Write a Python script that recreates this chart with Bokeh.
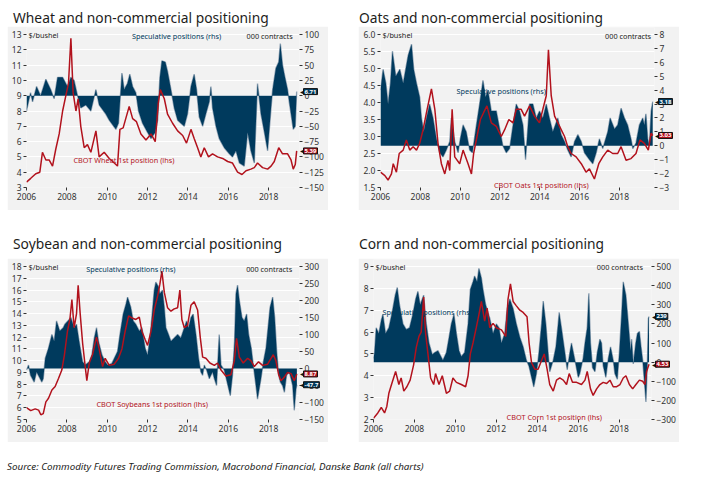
from bokeh.plotting import figure
from bokeh.models import Range1d, LinearAxis, FixedTicker, Div, Spacer, NumeralTickFormatter
from bokeh.layouts import column, row
from bokeh.embed import file_html
from bokeh.resources import INLINE
from bokeh.core.properties import value

NAVY = "#003A5D"
FRINGE = "#93A5B6"
RED = "#B2121D"
BG = "#F2F2F2"
FONT = "Noto Sans"

YEAR_TICKS = [2006, 2008, 2010, 2012, 2014, 2016, 2018]

# ---------------- Wheat ----------------
WHEAT_POSITIONS = [(2006.0, -25), (2006.2, 5), (2006.3, -10), (2006.5, 15), (2006.7, 0), (2006.96, 27),
    (2007.2, 10), (2007.37, -5), (2007.54, 30), (2007.79, 30), (2008.03, 15), (2008.2, 30), (2008.36, 25),
    (2008.53, 0), (2008.69, -20), (2008.94, -15), (2009.19, -25), (2009.44, 10), (2009.6, -15), (2009.93, -30),
    (2010.1, -40), (2010.43, -55), (2010.56, -45), (2010.73, 37), (2010.84, 10), (2011.0, 20), (2011.12, 35),
    (2011.26, 15), (2011.42, 5), (2011.55, -25), (2011.75, -45), (2012.0, -60), (2012.17, -70), (2012.38, -60),
    (2012.5, -40), (2012.61, 30), (2012.71, 57), (2012.88, 55), (2012.99, 40), (2013.16, 10), (2013.32, -20),
    (2013.49, -40), (2013.65, -45), (2013.82, -50), (2013.98, -30), (2014.15, 15), (2014.31, 35), (2014.43, 10),
    (2014.56, -35), (2014.73, -50), (2014.89, -30), (2015.06, -10), (2015.14, 15), (2015.22, -20), (2015.39, -50),
    (2015.55, -70), (2015.8, -85), (2016.05, -95), (2016.21, -100), (2016.38, -90), (2016.55, -110),
    (2016.79, -115), (2016.96, -60), (2017.12, -90), (2017.29, -110), (2017.45, 20), (2017.62, -30),
    (2017.79, -60), (2017.95, -90), (2018.12, -20), (2018.2, 10), (2018.36, 45), (2018.5, 55), (2018.58, 85),
    (2018.69, 50), (2018.81, 30), (2018.94, 10), (2019.02, -10), (2019.11, -30), (2019.22, -55), (2019.32, -50),
    (2019.39, 6.71)]
WHEAT_PRICE = [(2006.0, 3.35), (2006.21, 3.6), (2006.46, 3.9), (2006.66, 4.0), (2006.79, 5.3), (2006.96, 4.8),
    (2007.12, 4.8), (2007.29, 4.4), (2007.45, 5.5), (2007.62, 6.5), (2007.79, 8.0), (2007.95, 9.0), (2008.08, 9.8),
    (2008.2, 12.75), (2008.31, 9.2), (2008.45, 8.0), (2008.56, 8.8), (2008.69, 7.0), (2008.86, 5.6), (2009.02, 5.8),
    (2009.19, 5.3), (2009.44, 6.7), (2009.6, 5.0), (2009.85, 5.3), (2010.1, 4.9), (2010.35, 4.6), (2010.51, 4.4),
    (2010.63, 6.8), (2010.79, 6.9), (2011.09, 8.3), (2011.26, 7.5), (2011.45, 7.3), (2011.67, 6.5), (2011.92, 6.1),
    (2012.17, 6.5), (2012.38, 6.0), (2012.53, 8.5), (2012.63, 9.4), (2012.83, 8.8), (2012.99, 7.8), (2013.24, 7.2),
    (2013.49, 6.7), (2013.74, 6.4), (2013.93, 5.9), (2014.15, 6.8), (2014.31, 6.2), (2014.48, 5.6), (2014.64, 5.0),
    (2014.81, 5.6), (2015.02, 5.0), (2015.22, 5.2), (2015.47, 5.0), (2015.72, 4.9), (2015.97, 4.7), (2016.21, 4.6),
    (2016.46, 4.0), (2016.68, 3.85), (2016.88, 4.1), (2017.12, 4.2), (2017.29, 4.3), (2017.45, 4.6), (2017.7, 4.3),
    (2017.95, 4.2), (2018.12, 4.4), (2018.28, 4.7), (2018.5, 5.6), (2018.69, 5.2), (2018.94, 5.2), (2019.11, 4.8),
    (2019.22, 4.2), (2019.32, 4.5), (2019.39, 5.39)]
WHEAT_LEFT_TICKS = [3, 4, 5, 6, 7, 8, 9, 10, 11, 12, 13]
WHEAT_RIGHT_TICKS = [-150, -125, -100, -75, -50, -25, 0, 25, 50, 75, 100]

# ---------------- Oats ----------------
OATS_POSITIONS = [(2006.0, 4.0), (2006.13, 5.5), (2006.27, 4.5), (2006.38, 3.0), (2006.5, 4.5), (2006.6, 6.8),
    (2006.77, 5.0), (2006.97, 5.5), (2007.14, 4.5), (2007.39, 6.5), (2007.56, 7.3), (2007.67, 5.5), (2007.81, 4.5),
    (2007.97, 3.5), (2008.06, 2.0), (2008.17, 1.0), (2008.31, 2.0), (2008.47, 3.0), (2008.64, 2.0), (2008.81, 0.5),
    (2008.98, -0.5), (2009.14, -0.8), (2009.31, -0.3), (2009.48, 0.3), (2009.56, 2.0), (2009.73, 0.3),
    (2009.9, -0.5), (2010.01, 0.5), (2010.15, 1.5), (2010.31, 1.0), (2010.48, -0.3), (2010.62, -0.5),
    (2010.82, 1.5), (2010.98, 3.0), (2011.15, 4.7), (2011.28, 3.5), (2011.4, 4.0), (2011.57, 2.5), (2011.82, 2.5),
    (2012.02, 1.0), (2012.15, 0.0), (2012.32, -0.5), (2012.49, -0.2), (2012.66, 1.5), (2012.82, 3.0),
    (2012.99, 2.5), (2013.16, 1.5), (2013.29, -1.0), (2013.49, 3.0), (2013.66, 3.0), (2013.83, 2.0),
    (2013.99, 2.5), (2014.16, 2.0), (2014.33, 3.0), (2014.49, 2.0), (2014.66, 1.0), (2014.91, 2.0),
    (2015.08, 0.8), (2015.25, 0.3), (2015.41, -0.3), (2015.58, -0.8), (2015.75, 0.3), (2015.92, 0.8),
    (2016.09, 0.3), (2016.25, -0.5), (2016.5, -1.0), (2016.67, -1.3), (2016.84, -0.5), (2017.0, 0.5),
    (2017.17, -0.2), (2017.42, 1.0), (2017.54, 2.0), (2017.76, 1.2), (2017.92, 1.5), (2018.09, 2.7),
    (2018.26, 2.0), (2018.42, 1.5), (2018.59, 0.5), (2018.68, -0.2), (2018.84, 0.2), (2019.01, 1.5),
    (2019.18, 2.0), (2019.26, 1.5), (2019.34, 2.3), (2019.43, 0.5), (2019.51, 0.0), (2019.6, 2.5), (2019.68, 3.18)]
OATS_PRICE = [(2006.0, 1.95), (2006.22, 1.85), (2006.38, 1.72), (2006.55, 1.9), (2006.64, 2.2), (2006.8, 1.95),
    (2006.94, 2.5), (2007.14, 2.6), (2007.3, 2.9), (2007.47, 2.6), (2007.64, 2.7), (2007.81, 2.6), (2007.97, 2.8),
    (2008.14, 3.2), (2008.31, 3.7), (2008.56, 4.4), (2008.73, 3.8), (2008.89, 2.8), (2009.06, 2.2), (2009.23, 1.9),
    (2009.39, 2.3), (2009.48, 2.0), (2009.6, 3.8), (2009.73, 2.4), (2009.98, 2.2), (2010.15, 2.6), (2010.4, 2.2),
    (2010.57, 1.9), (2010.68, 2.5), (2010.85, 3.0), (2011.02, 3.5), (2011.18, 3.7), (2011.35, 3.9), (2011.57, 3.4),
    (2011.82, 3.3), (2012.07, 3.0), (2012.24, 3.2), (2012.45, 3.5), (2012.66, 3.4), (2012.82, 3.8), (2013.07, 3.8),
    (2013.24, 3.6), (2013.49, 3.9), (2013.74, 3.6), (2013.99, 3.4), (2014.16, 3.8), (2014.33, 4.2), (2014.44, 5.55),
    (2014.58, 4.2), (2014.75, 3.6), (2015.0, 3.3), (2015.25, 3.0), (2015.41, 2.7), (2015.58, 2.5), (2015.83, 2.4),
    (2016.09, 2.2), (2016.33, 1.95), (2016.5, 2.05), (2016.75, 1.75), (2016.97, 2.2), (2017.17, 2.4),
    (2017.42, 2.6), (2017.67, 2.5), (2017.92, 2.5), (2018.09, 2.7), (2018.34, 2.3), (2018.59, 2.35),
    (2018.84, 2.5), (2019.04, 2.9), (2019.26, 2.8), (2019.46, 2.6), (2019.6, 3.1), (2019.68, 3.03)]
OATS_LEFT_TICKS = [1.5, 2.0, 2.5, 3.0, 3.5, 4.0, 4.5, 5.0, 5.5, 6.0]
OATS_RIGHT_TICKS = [-3, -2, -1, 0, 1, 2, 3, 4, 5, 6, 7, 8]

# ---------------- Soybeans ----------------
SOY_POSITIONS = [(2006.0, -5), (2006.1, 10), (2006.2, -20), (2006.38, -40), (2006.5, -10), (2006.63, -25),
    (2006.76, -40), (2006.83, -30), (2006.93, 30), (2007.09, 60), (2007.26, 100), (2007.37, 80), (2007.49, 140),
    (2007.65, 110), (2007.82, 120), (2007.9, 130), (2008.05, 140), (2008.2, 150), (2008.36, 120), (2008.48, 130),
    (2008.61, 80), (2008.78, 20), (2008.91, 10), (2009.11, 20), (2009.24, 40), (2009.36, 90), (2009.47, 120),
    (2009.57, 80), (2009.74, 40), (2009.9, 20), (2010.02, 10), (2010.23, 15), (2010.35, 30), (2010.51, 50),
    (2010.63, 100), (2010.79, 160), (2010.93, 190), (2011.01, 210), (2011.17, 180), (2011.29, 140),
    (2011.42, 130), (2011.59, 110), (2011.72, 120), (2011.88, 60), (2012.0, 40), (2012.12, 90), (2012.21, 150),
    (2012.33, 230), (2012.41, 254), (2012.55, 240), (2012.61, 220), (2012.74, 230), (2012.83, 180),
    (2012.91, 120), (2013.04, 100), (2013.16, 80), (2013.32, 90), (2013.49, 100), (2013.65, 90), (2013.82, 120),
    (2013.93, 140), (2014.03, 120), (2014.15, 150), (2014.26, 160), (2014.4, 100), (2014.53, 30), (2014.64, -10),
    (2014.73, -20), (2014.81, 10), (2014.93, -5), (2015.06, -30), (2015.22, -10), (2015.31, -30), (2015.42, -50),
    (2015.55, 100), (2015.64, 10), (2015.8, -5), (2016.02, -60), (2016.1, -80), (2016.21, -20), (2016.31, 80),
    (2016.38, 220), (2016.46, 245), (2016.55, 200), (2016.68, 150), (2016.79, 140), (2016.91, 160),
    (2017.01, 100), (2017.14, 60), (2017.24, 10), (2017.37, -50), (2017.45, -90), (2017.62, -30), (2017.74, 20),
    (2017.87, 60), (2017.97, 120), (2018.07, 180), (2018.2, 210), (2018.3, 150), (2018.4, 50), (2018.5, -20),
    (2018.58, -40), (2018.69, -50), (2018.78, -70), (2018.89, -20), (2019.02, -10), (2019.11, -30),
    (2019.19, -50), (2019.27, -123), (2019.36, -60), (2019.4, -47.7)]
SOY_PRICE = [(2006.0, 6.0), (2006.21, 5.75), (2006.43, 5.9), (2006.6, 5.8), (2006.71, 5.4), (2006.83, 5.5),
    (2006.96, 6.5), (2007.09, 6.8), (2007.26, 7.5), (2007.42, 7.8), (2007.59, 8.5), (2007.75, 9.2), (2007.88, 10.5),
    (2008.03, 12.5), (2008.15, 13.5), (2008.25, 15.2), (2008.36, 12.8), (2008.48, 14.0), (2008.56, 16.4),
    (2008.66, 14.0), (2008.78, 11.5), (2008.91, 9.5), (2008.99, 8.3), (2009.11, 9.8), (2009.27, 10.5),
    (2009.47, 12.0), (2009.6, 11.0), (2009.77, 9.5), (2009.9, 10.2), (2010.1, 9.6), (2010.35, 9.7), (2010.56, 10.2),
    (2010.73, 11.0), (2010.89, 12.5), (2011.06, 13.8), (2011.26, 13.6), (2011.42, 13.5), (2011.59, 13.7),
    (2011.72, 12.5), (2011.88, 11.8), (2012.0, 11.3), (2012.17, 12.5), (2012.33, 14.3), (2012.5, 15.5),
    (2012.61, 16.5), (2012.71, 17.6), (2012.83, 15.8), (2012.99, 14.5), (2013.16, 14.2), (2013.32, 14.4),
    (2013.49, 14.5), (2013.6, 16.0), (2013.7, 13.5), (2013.82, 12.8), (2013.98, 13.0), (2014.15, 14.7),
    (2014.31, 15.0), (2014.48, 14.3), (2014.61, 12.0), (2014.73, 10.3), (2014.89, 10.2), (2015.09, 9.8),
    (2015.31, 9.6), (2015.47, 9.8), (2015.64, 9.2), (2015.88, 8.7), (2016.13, 8.8), (2016.3, 10.0), (2016.41, 11.9),
    (2016.55, 10.3), (2016.74, 9.8), (2016.96, 10.2), (2017.12, 10.0), (2017.29, 9.5), (2017.5, 9.9), (2017.7, 9.6),
    (2017.95, 9.7), (2018.12, 10.2), (2018.23, 10.5), (2018.36, 10.0), (2018.5, 8.8), (2018.61, 8.3),
    (2018.78, 8.6), (2018.94, 9.0), (2019.11, 8.9), (2019.27, 8.3), (2019.4, 8.87)]
SOY_LEFT_TICKS = [5, 6, 7, 8, 9, 10, 11, 12, 13, 14, 15, 16, 17, 18]
SOY_RIGHT_TICKS = [-150, -100, -50, 0, 50, 100, 150, 200, 250, 300]

# ---------------- Corn ----------------
CORN_POSITIONS = [(2006.0, 20), (2006.05, 50), (2006.13, 180), (2006.26, 150), (2006.38, 220), (2006.46, 250),
    (2006.59, 150), (2006.75, 180), (2006.91, 260), (2007.06, 350), (2007.16, 390), (2007.27, 300), (2007.44, 200),
    (2007.6, 170), (2007.76, 180), (2007.92, 250), (2008.06, 330), (2008.17, 370), (2008.28, 300), (2008.45, 350),
    (2008.58, 200), (2008.71, 100), (2008.87, 40), (2008.99, 50), (2009.15, 60), (2009.39, 10), (2009.56, 50),
    (2009.69, 130), (2009.8, 200), (2009.93, 250), (2010.05, 150), (2010.18, 60), (2010.29, 30), (2010.45, 50),
    (2010.62, 200), (2010.73, 380), (2010.86, 420), (2010.94, 450), (2011.06, 420), (2011.15, 490), (2011.27, 440),
    (2011.35, 380), (2011.48, 300), (2011.68, 230), (2011.84, 150), (2012.0, 200), (2012.13, 180), (2012.25, 100),
    (2012.41, 150), (2012.53, 280), (2012.66, 330), (2012.82, 280), (2012.98, 200), (2013.15, 130), (2013.31, 80),
    (2013.47, 10), (2013.59, -20), (2013.72, -80), (2013.83, -130), (2013.96, -60), (2014.08, 50), (2014.21, 200),
    (2014.29, 319), (2014.42, 200), (2014.53, 50), (2014.61, -50), (2014.78, 10), (2014.91, 80), (2015.02, 200),
    (2015.07, 260), (2015.18, 180), (2015.35, 50), (2015.46, -40), (2015.59, 50), (2015.67, 100), (2015.84, 10),
    (2016.0, -80), (2016.08, -60), (2016.24, 20), (2016.33, 100), (2016.44, 180), (2016.52, 360), (2016.6, 100),
    (2016.7, -30), (2016.82, -50), (2016.93, 50), (2017.06, 120), (2017.14, 100), (2017.22, -20), (2017.35, -80),
    (2017.47, 20), (2017.58, 80), (2017.71, 10), (2017.79, -60), (2017.91, -90), (2018.01, 50), (2018.12, 250),
    (2018.2, 420), (2018.33, 350), (2018.45, 200), (2018.56, 60), (2018.61, 120), (2018.69, -10), (2018.81, 100),
    (2018.89, 150), (2018.99, 160), (2019.07, 80), (2019.15, 10), (2019.23, -100), (2019.31, -208), (2019.38, 0),
    (2019.43, 230), (2019.46, 239)]
CORN_PRICE = [(2006.0, 2.05), (2006.21, 2.3), (2006.38, 2.55), (2006.54, 2.3), (2006.65, 2.6), (2006.75, 3.2),
    (2006.88, 3.6), (2007.08, 4.2), (2007.24, 3.6), (2007.35, 3.9), (2007.48, 3.3), (2007.63, 3.5), (2007.79, 3.8),
    (2007.96, 4.5), (2008.09, 5.3), (2008.22, 5.8), (2008.33, 6.0), (2008.45, 7.6), (2008.54, 6.0), (2008.66, 5.0),
    (2008.79, 3.9), (2008.94, 3.6), (2009.03, 4.1), (2009.2, 3.6), (2009.36, 4.0), (2009.56, 3.2), (2009.72, 3.3),
    (2009.88, 3.9), (2010.05, 3.7), (2010.29, 3.6), (2010.5, 3.5), (2010.62, 4.0), (2010.73, 5.0), (2010.86, 5.5),
    (2011.02, 6.2), (2011.15, 6.8), (2011.27, 7.4), (2011.43, 6.5), (2011.55, 7.1), (2011.68, 6.2), (2011.84, 6.4),
    (2012.0, 6.2), (2012.25, 6.1), (2012.46, 5.8), (2012.57, 7.5), (2012.69, 8.2), (2012.82, 7.4), (2012.98, 7.2),
    (2013.15, 7.0), (2013.31, 6.9), (2013.5, 6.7), (2013.6, 5.5), (2013.72, 4.6), (2013.88, 4.3), (2014.04, 4.3),
    (2014.21, 4.7), (2014.34, 5.0), (2014.48, 4.3), (2014.61, 3.6), (2014.78, 3.3), (2014.94, 3.8), (2015.1, 3.9),
    (2015.27, 3.8), (2015.43, 3.6), (2015.56, 4.1), (2015.72, 3.7), (2015.92, 3.7), (2016.16, 3.6), (2016.33, 3.8),
    (2016.44, 4.2), (2016.6, 3.4), (2016.73, 3.1), (2016.9, 3.4), (2017.06, 3.6), (2017.22, 3.7), (2017.39, 3.65),
    (2017.55, 3.8), (2017.71, 3.5), (2017.88, 3.5), (2018.04, 3.6), (2018.2, 3.9), (2018.33, 4.0), (2018.5, 3.6),
    (2018.66, 3.4), (2018.82, 3.6), (2018.99, 3.8), (2019.15, 3.75), (2019.26, 3.6), (2019.34, 4.2), (2019.46, 4.53)]
CORN_LEFT_TICKS = [2, 3, 4, 5, 6, 7, 8, 9]
CORN_RIGHT_TICKS = [-300, -200, -100, 0, 100, 200, 300, 400, 500]

TOP_PAD_PX = 7.0
FRAME_PX = 153.0


def style_axis(ax):
    ax.axis_line_color = None
    ax.major_tick_line_color = "#333333"
    ax.major_tick_out = 3
    ax.major_tick_in = 0
    ax.minor_tick_line_color = None
    ax.major_label_text_font = FONT
    ax.major_label_text_font_size = "8.5px"
    ax.major_label_text_color = "#333333"
    ax.major_label_standoff = 2


def add_text(p, x, y, text, color, align="left"):
    # overlay-level text glyph: not clipped at the frame edge
    p.text(x=[x], y=[y], text=[text], text_color=color, text_font=value(FONT),
           text_font_size=value("7.3px"), text_align=align, text_baseline="middle", level="overlay")


def add_tag(p, x, v, color, rng):
    p.text(x=[x], y=[v], text=["\u25C0"], x_offset=5, text_color="#111111", text_font=value("DejaVu Sans"),
           text_font_size=value("6px"), text_align="right", text_baseline="middle",
           level="overlay", y_range_name=rng)
    p.text(x=[x], y=[v], text=[f"{v:.3g}"], x_offset=4, text_color="white", text_font=value(FONT),
           text_font_size=value("6px"), text_font_style="bold", text_align="left", text_baseline="middle",
           background_fill_color=color, border_line_color="#111111", border_line_width=1, padding=1,
           level="overlay", y_range_name=rng)


def panel(positions, prices, lticks, rticks, xend, bl, br, lfmt, texts):
    lpad = (lticks[-1] - lticks[0]) * TOP_PAD_PX / FRAME_PX
    rpad = (rticks[-1] - rticks[0]) * TOP_PAD_PX / FRAME_PX
    p = figure(width=321, height=184, x_range=Range1d(2006, xend),
               y_range=Range1d(lticks[0], lticks[-1] + lpad),
               output_backend="svg", toolbar_location=None, min_border_left=bl, min_border_right=br,
               min_border_top=1, min_border_bottom=23, background_fill_color=BG, border_fill_color=BG,
               outline_line_color=None)
    p.extra_y_ranges = {"rhs": Range1d(rticks[0], rticks[-1] + rpad)}
    rax = LinearAxis(y_range_name="rhs", ticker=FixedTicker(ticks=rticks))
    p.add_layout(rax, "right")
    p.yaxis[0].ticker = FixedTicker(ticks=lticks)
    if lfmt:
        p.yaxis[0].formatter = NumeralTickFormatter(format=lfmt)
    p.xaxis.ticker = FixedTicker(ticks=YEAR_TICKS)
    for ax in [p.xaxis[0], p.yaxis[0], rax]:
        style_axis(ax)
    p.ygrid.ticker = FixedTicker(ticks=lticks)
    p.ygrid.grid_line_color = "white"
    p.ygrid.grid_line_width = 1
    p.xgrid.grid_line_color = None

    pt = [a for a, b in positions]
    pv = [b for a, b in positions]
    qt = [a for a, b in prices]
    qv = [b for a, b in prices]
    p.line(pt, pv, y_range_name="rhs", line_color=FRINGE, line_width=1.4)
    p.varea(x=pt, y1=0, y2=pv, y_range_name="rhs", fill_color=NAVY)
    p.line(qt, qv, line_color=RED, line_width=1.5)

    for (x, y, t, c, a) in texts:
        add_text(p, x, y, t, c, a)
    add_tag(p, xend, pv[-1], NAVY, "rhs")
    add_tag(p, xend, qv[-1], RED, "default")
    return p


def title_div(text, h, pad_top, pad_left):
    html = (f'<div style="font-family:\'{FONT}\';font-size:13.8px;line-height:14px;color:#1d1d1b;'
            f'padding:{pad_top}px 0 0 {pad_left}px;margin:0;white-space:nowrap">{text}</div>')
    return Div(text=html, width=321, height=h, margin=(0, 0, 0, 0))


p1 = panel(WHEAT_POSITIONS, WHEAT_PRICE, WHEAT_LEFT_TICKS, WHEAT_RIGHT_TICKS, 2019.53, 19, 29, None,
           [(2006.1, 13.0, "$/bushel", "#1d1d1b", "left"),
            (2013.44, 12.87, "Speculative positions (rhs)", NAVY, "center"),
            (2019.19, 12.87, "000 contracts", "#1d1d1b", "right"),
            (2008.33, 4.83, "CBOT Wheat 1st position (lhs)", RED, "left")])
p2 = panel(OATS_POSITIONS, OATS_PRICE, OATS_LEFT_TICKS, OATS_RIGHT_TICKS, 2019.77, 22, 25, "0.0",
           [(2006.1, 6.0, "$/bushel", "#1d1d1b", "left"),
            (2012.07, 4.35, "Speculative positions (rhs)", NAVY, "center"),
            (2019.6, 5.97, "000 contracts", "#1d1d1b", "right"),
            (2014.08, 1.58, "CBOT Oats 1st position (lhs)", RED, "center")])
p3 = panel(SOY_POSITIONS, SOY_PRICE, SOY_LEFT_TICKS, SOY_RIGHT_TICKS, 2019.53, 19, 29, None,
           [(2006.1, 18.0, "$/bushel", "#1d1d1b", "left"),
            (2011.17, 17.8, "Speculative positions (rhs)", NAVY, "center"),
            (2019.17, 17.8, "000 contracts", "#1d1d1b", "right"),
            (2012.23, 6.28, "CBOT Soybeans 1st position (lhs)", RED, "center")])
p4 = panel(CORN_POSITIONS, CORN_PRICE, CORN_LEFT_TICKS, CORN_RIGHT_TICKS, 2019.58, 15, 28, None,
           [(2006.1, 9.0, "$/bushel", "#1d1d1b", "left"),
            (2006.44, 6.9, "Speculative positions (rhs)", NAVY, "left"),
            (2019.16, 8.97, "000 contracts", "#1d1d1b", "right"),
            (2014.83, 2.1, "CBOT Corn 1st position (lhs)", RED, "center")])

t1 = title_div("Wheat and non-commercial positioning", 19, 4, 6)
t2 = title_div("Oats and non-commercial positioning", 19, 4, 1)
t3 = title_div("Soybean and non-commercial positioning", 48, 27, 6)
t4 = title_div("Corn and non-commercial positioning", 48, 27, 1)

src = Div(text=('<div style="font-family:\'Noto Sans\';font-size:9.8px;font-style:italic;color:#1d1d1b;'
                'padding:18px 0 0 0;white-space:nowrap">Source: Commodity Futures Trading Commission, '
                'Macrobond Financial, Danske Bank (all charts)</div>'),
          width=680, height=34, margin=(0, 0, 0, 0))

layout = column(
    row(column(t1, p1, spacing=0), Spacer(width=30, margin=(0, 0, 0, 0)), column(t2, p2, spacing=0), spacing=0),
    row(column(t3, p3, spacing=0), Spacer(width=30, margin=(0, 0, 0, 0)), column(t4, p4, spacing=0), spacing=0),
    src, spacing=0, margin=(7, 0, 0, 7),
)

open("out.html", "w").write(file_html(layout, INLINE))
